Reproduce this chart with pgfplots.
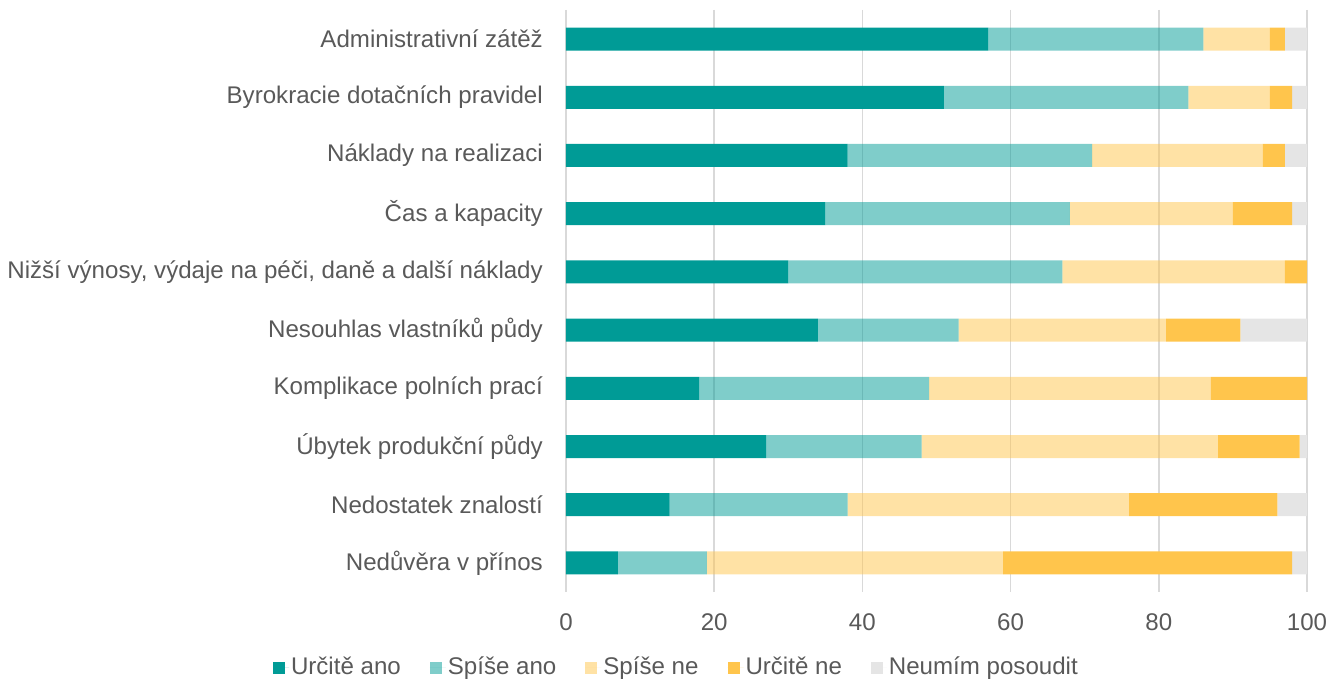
\documentclass[border=0pt]{standalone}
\usepackage{pgfplots}
\pgfplotsset{compat=1.18}
\usepackage{pgfplotstable}
\usepackage{fontspec}
\setmainfont{Liberation Sans}
\definecolor{c1}{RGB}{0,155,150}
\definecolor{c4}{RGB}{255,197,76}
\definecolor{c5}{RGB}{229,229,229}
\definecolor{gridc}{RGB}{217,217,217}
\definecolor{txt}{RGB}{89,89,89}
\pgfplotstableread{
y a b c d e
0 57 29 9 2 3
1 51 33 11 3 2
2 38 33 23 3 3
3 35 33 22 8 2
4 30 37 30 3 0
5 34 19 28 10 9
6 18 31 38 13 0
7 27 21 40 11 1
8 14 24 38 20 4
9 7 12 40 39 2
}\data
\begin{document}
\fontsize{24.1}{28}\selectfont
\begin{tikzpicture}[x=1pt,y=1pt]
\begin{axis}[
  at={(566pt,90pt)}, anchor=south west,
  scale only axis, width=741pt, height=582pt,
  xbar stacked, bar width=23pt,
  xmin=0, xmax=100, ymin=-0.5, ymax=9.5,
  y dir=reverse,
  ytick=data,
  yticklabels={{Administrativní zátěž},{Byrokracie dotačních pravidel},{Náklady na realizaci},{Čas a kapacity},{Nižší výnosy, výdaje na péči, daně a další náklady},{Nesouhlas vlastníků půdy},{Komplikace polních prací},{Úbytek produkční půdy},{Nedostatek znalostí},{Nedůvěra v přínos}},
  xtick={0,20,40,60,80,100},
  major tick length=0pt,
  axis line style={draw=none},
  xmajorgrids, grid style={gridc, line width=1.6pt},
  /pgf/number format/assume math mode=true,
  tick label style={font=\fontsize{24.1}{28}\selectfont, text=txt},
  yticklabel style={anchor=east, inner sep=0pt, xshift=-23pt},
  xticklabel style={anchor=north, inner sep=0pt, yshift=-21pt},
  legend style={at={(0.149,-0.129)}, anchor=center, legend columns=5, draw=none, fill=none,
    font=\fontsize{24.1}{28}\selectfont, text=txt,
    /tikz/every even column/.append style={column sep=27pt},
    nodes={inner sep=2pt}},
  legend image code/.code={\path (0pt,0pt) -- (16pt,0pt); \fill[#1] (0pt,-7pt) rectangle (12pt,5pt);},
]
\addplot[fill=c1, draw=none] table[x=a, y=y] {\data};
\addplot[fill=c1, fill opacity=0.5, draw=none] table[x=b, y=y] {\data};
\addplot[fill=c4, fill opacity=0.5, draw=none] table[x=c, y=y] {\data};
\addplot[fill=c4, draw=none] table[x=d, y=y] {\data};
\addplot[fill=c5, draw=none] table[x=e, y=y] {\data};
\legend{Určitě ano, Spíše ano, Spíše ne, Určitě ne, Neumím posoudit}
\end{axis}
\pgfresetboundingbox
\path[use as bounding box] (0,0) rectangle (1331pt,682pt);
\end{tikzpicture}
\end{document}
